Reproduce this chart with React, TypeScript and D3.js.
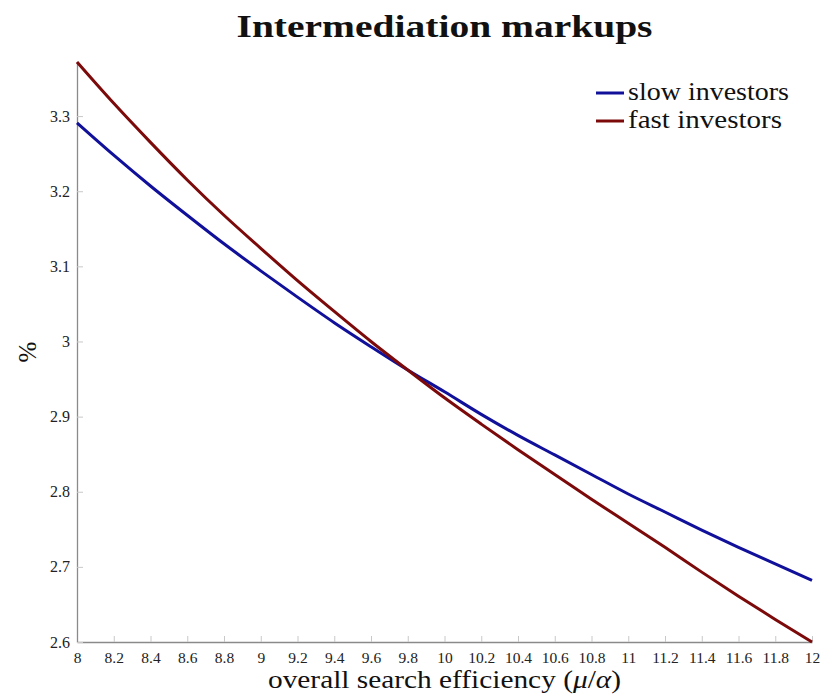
import React, { useEffect, useRef } from 'react';
import * as d3 from 'd3';

// overall search efficiency (mu / alpha)
const efficiency = [8, 8.2, 8.4, 8.6, 8.8, 9, 9.2, 9.4, 9.6, 9.8, 10, 10.2, 10.4, 10.6, 10.8, 11, 11.2, 11.4, 11.6, 11.8, 12];

// markups, in %
const slowInvestors = [3.291, 3.248, 3.207, 3.168, 3.130, 3.094, 3.059, 3.025, 2.993, 2.962, 2.933, 2.903, 2.875, 2.849, 2.823, 2.797, 2.773, 2.749, 2.726, 2.704, 2.682];
const fastInvestors = [3.372, 3.317, 3.265, 3.215, 3.168, 3.124, 3.081, 3.040, 3.000, 2.962, 2.925, 2.890, 2.856, 2.823, 2.790, 2.758, 2.726, 2.693, 2.661, 2.630, 2.600];

const xTicks = [8, 8.2, 8.4, 8.6, 8.8, 9, 9.2, 9.4, 9.6, 9.8, 10, 10.2, 10.4, 10.6, 10.8, 11, 11.2, 11.4, 11.6, 11.8, 12];
const yTicks = [2.6, 2.7, 2.8, 2.9, 3, 3.1, 3.2, 3.3];

const seriesNames = ['slow investors', 'fast investors'];
const seriesColors = ['#10109a', '#7c0a0a'];
const legendWidths = [161, 154]; // the LaTeX font is wider than Times

const width = 825;
const height = 698;
const margin = { top: 62, right: 13, bottom: 56, left: 77 };
const serif = "'Liberation Serif', 'Times New Roman', serif";

export default function App() {
  const svgRef = useRef<SVGSVGElement>(null);

  useEffect(() => {
    if (!svgRef.current) return;
    const svg = d3.select(svgRef.current);
    svg.selectAll('*').remove();

    const innerWidth = width - margin.left - margin.right;
    const innerHeight = height - margin.top - margin.bottom;

    const x = d3.scaleLinear().domain([8, 12]).range([0, innerWidth]);
    const y = d3.scaleLinear()
      .domain([2.6, d3.max(fastInvestors.concat(slowInvestors)) as number])
      .range([innerHeight, 0]);

    const g = svg.append('g')
      .attr('transform', `translate(${margin.left},${margin.top})`);

    // x axis (ticks pointing inward)
    const xAxis = g.append('g')
      .attr('font-family', serif)
      .call(d3.axisBottom(x).tickValues(xTicks).tickSizeInner(-6).tickSizeOuter(0).tickPadding(10)
        .tickFormat(d => String(+(+d).toFixed(1))));
    xAxis.attr('transform', `translate(0,${innerHeight})`);
    xAxis.select('.domain').attr('stroke', '#8a8a8a').attr('stroke-width', 1.3);
    xAxis.selectAll('.tick line').attr('stroke', '#c8c8c8');
    xAxis.selectAll('.tick text')
      .attr('fill', '#222')
      .attr('font-family', serif)
      .attr('font-size', 15.5);

    // y axis
    const yAxis = g.append('g')
      .call(d3.axisLeft(y).tickValues(yTicks).tickSizeInner(-6).tickSizeOuter(0).tickPadding(7)
        .tickFormat(d => String(+(+d).toFixed(1))));
    yAxis.select('.domain').attr('stroke', '#8a8a8a').attr('stroke-width', 1.3);
    yAxis.selectAll('.tick line').attr('stroke', '#c8c8c8');
    yAxis.selectAll('.tick text')
      .attr('fill', '#222')
      .attr('font-family', serif)
      .attr('font-size', 16);

    // lines
    const line = d3.line<number>()
      .x((_, i) => x(efficiency[i]))
      .y(d => y(d))
      .curve(d3.curveMonotoneX);

    [slowInvestors, fastInvestors].forEach((values, i) => {
      g.append('path')
        .datum(values)
        .attr('fill', 'none')
        .attr('stroke', seriesColors[i])
        .attr('stroke-width', 3)
        .attr('d', line);
    });

    // legend
    const legend = svg.append('g').attr('transform', 'translate(596, 93)');
    seriesNames.forEach((name, i) => {
      const row = legend.append('g').attr('transform', `translate(0, ${i * 28})`);
      row.append('line')
        .attr('x1', 0).attr('x2', 28)
        .attr('stroke', seriesColors[i])
        .attr('stroke-width', 3);
      row.append('text')
        .attr('x', 32)
        .attr('y', 7)
        .attr('fill', '#111')
        .attr('textLength', legendWidths[i])
        .attr('lengthAdjust', 'spacingAndGlyphs')
        .style('font-family', serif)
        .style('font-size', '25px')
        .text(name);
    });

    // title
    svg.append('text')
      .attr('x', margin.left + innerWidth / 2)
      .attr('y', 37)
      .attr('text-anchor', 'middle')
      .attr('fill', '#111')
      .attr('textLength', 416)
      .attr('lengthAdjust', 'spacingAndGlyphs')
      .style('font-family', serif)
      .style('font-weight', 'bold')
      .style('font-size', '32px')
      .text('Intermediation markups');

    // x label
    const xl = svg.append('text')
      .attr('x', margin.left + innerWidth / 2)
      .attr('y', 688)
      .attr('text-anchor', 'middle')
      .attr('fill', '#111')
      .attr('textLength', 353)
      .attr('lengthAdjust', 'spacingAndGlyphs')
      .style('font-family', serif)
      .style('font-size', '25px');
    xl.append('tspan').text('overall search efficiency (');
    xl.append('tspan').style('font-style', 'italic').text('μ');
    xl.append('tspan').text('/');
    xl.append('tspan').style('font-style', 'italic').text('α');
    xl.append('tspan').text(')');

    // y label
    svg.append('text')
      .attr('transform', `translate(36, ${margin.top + innerHeight / 2}) rotate(-90)`)
      .attr('text-anchor', 'middle')
      .attr('fill', '#111')
      .style('font-family', serif)
      .style('font-size', '25px')
      .text('%');
  }, []);

  return (
    <svg
      ref={svgRef}
      width={width}
      height={height}
      style={{ position: 'absolute', left: 0, top: 0, background: '#fff' }}
    />
  );
}
